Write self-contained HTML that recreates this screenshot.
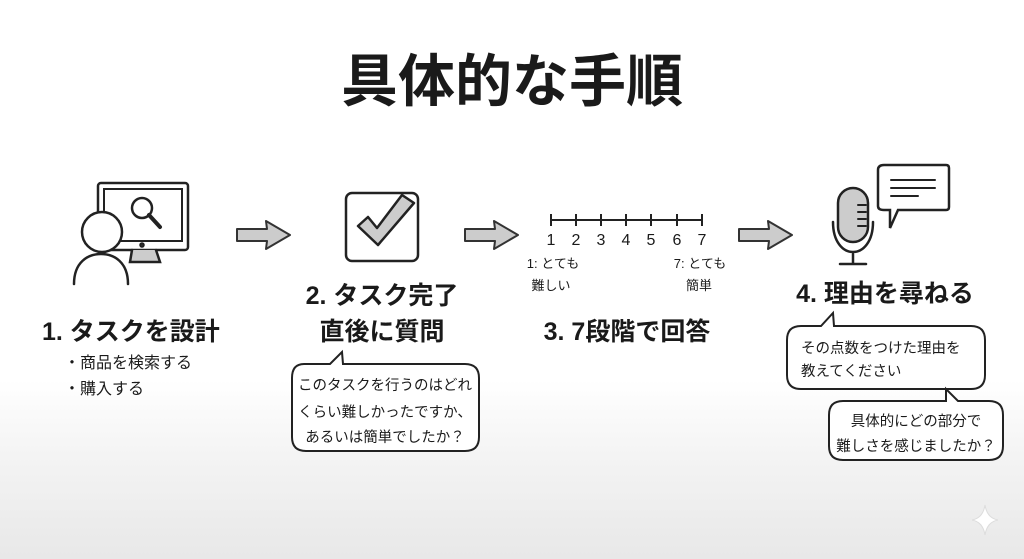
<!DOCTYPE html>
<html><head><meta charset="utf-8"><style>
html,body{margin:0;padding:0;}
body{width:1024px;height:559px;overflow:hidden;background:linear-gradient(#fff 0,#fff 380px,#f2f2f2 470px,#e8e8e8 559px);}
svg{display:block;font-family:"Liberation Sans","Noto Sans CJK JP",sans-serif;}
</style></head><body>
<svg width="1024" height="559" viewBox="0 0 1024 559" xmlns="http://www.w3.org/2000/svg">
<g fill="#1a1a1a">
<text x="512" y="101" font-size="57" font-weight="bold" text-anchor="middle">具体的な手順</text>
</g>
<!-- Step1 icon -->
<g stroke="#222" stroke-width="2.5" fill="none" stroke-linecap="round">
<rect x="98" y="183" width="90" height="67" rx="3" fill="#fff"/>
<rect x="104" y="189" width="78" height="52" fill="#fff" stroke-width="2"/>
<path d="M132 250 L130 262 L160 262 L156 250" fill="#ccc"/>
<circle cx="142" cy="208" r="10" fill="#fff"/>
<line x1="149" y1="215" x2="160" y2="227" stroke-width="4"/>
<circle cx="142" cy="245" r="1.5"/>
<circle cx="102" cy="232" r="20" fill="#fff"/>
<path d="M74 284 C74 262 88 254 101 254 C114 254 128 262 128 284" fill="#fff"/>
</g>
<!-- arrows -->
<g fill="#ccc" stroke="#333" stroke-width="2" stroke-linejoin="round">
<path d="M237 229 L267 229 L266 221 L290 235 L266 249 L267 241 L237 241 Z"/>
<path d="M465 229 L495 229 L494 221 L518 235 L494 249 L495 241 L465 241 Z"/>
<path d="M739 229 L769 229 L768 221 L792 235 L768 249 L769 241 L739 241 Z"/>
</g>
<!-- checkbox -->
<rect x="346" y="193" width="72" height="68" rx="6" fill="#fff" stroke="#222" stroke-width="2.5"/>
<path d="M358 226 L368 217 L377 228 L402 195 L414 203 L378 245 Z" fill="#ccc" stroke="#222" stroke-width="2.5" stroke-linejoin="round"/>
<!-- scale -->
<g stroke="#222" stroke-width="2">
<line x1="551" y1="220" x2="702" y2="220"/>
<line x1="551" y1="214" x2="551" y2="226"/><line x1="576" y1="214" x2="576" y2="226"/><line x1="601" y1="214" x2="601" y2="226"/><line x1="626" y1="214" x2="626" y2="226"/><line x1="651" y1="214" x2="651" y2="226"/><line x1="677" y1="214" x2="677" y2="226"/><line x1="702" y1="214" x2="702" y2="226"/>
</g>
<g fill="#1a1a1a" font-size="16" text-anchor="middle">
<text x="551" y="245">1</text><text x="576" y="245">2</text><text x="601" y="245">3</text><text x="626" y="245">4</text><text x="651" y="245">5</text><text x="677" y="245">6</text><text x="702" y="245">7</text>
<text x="553" y="268" font-size="13">1: とても</text>
<text x="551" y="290" font-size="13">難しい</text>
<text x="700" y="268" font-size="13">7: とても</text>
<text x="699" y="290" font-size="13">簡単</text>
</g>
<!-- mic -->
<g stroke="#222" stroke-width="2.5" fill="none" stroke-linecap="round">
<rect x="838" y="188" width="30" height="54" rx="15" fill="#ccc"/>
<path d="M858 205 H866 M858 212 H866 M858 219 H866 M858 226 H866" stroke-width="2"/>
<path d="M833 222 C833 262 873 262 873 222"/>
<line x1="853" y1="254" x2="853" y2="263"/>
<line x1="840" y1="264" x2="866" y2="264"/>
<path d="M884 165 H946 Q949 165 949 168 V207 Q949 210 946 210 H898 L890 228 L890 210 H884 Q878 210 878 206 V170 Q878 165 884 165 Z" fill="#fff"/>
<path d="M891 180 H935 M891 188 H935 M891 196 H918" stroke-width="2"/>
</g>
<!-- labels -->
<g fill="#1a1a1a" font-weight="bold" font-size="25">
<text x="42" y="340">1. タスクを設計</text>
<text x="382" y="304" text-anchor="middle">2. タスク完了</text>
<text x="382" y="340" text-anchor="middle">直後に質問</text>
<text x="627" y="340" text-anchor="middle">3. 7段階で回答</text>
<text x="885" y="302" text-anchor="middle">4. 理由を尋ねる</text>
</g>
<g fill="#1a1a1a" font-size="16">
<text x="64" y="368">・商品を検索する</text>
<text x="64" y="394">・購入する</text>
</g>
<!-- bubbles -->
<g stroke="#222" stroke-width="2" fill="#fff">
<path d="M304 364 H330 L342 352 L343 364 H465 Q479 364 479 378 V437 Q479 451 465 451 H306 Q292 451 292 437 V378 Q292 364 304 364 Z"/>
<path d="M801 326 H821 L833 313 L834 326 H971 Q985 326 985 340 V375 Q985 389 971 389 H801 Q787 389 787 375 V340 Q787 326 801 326 Z"/>
<path d="M843 401 H946 L946 389 L958 401 H989 Q1003 401 1003 415 V446 Q1003 460 989 460 H843 Q829 460 829 446 V415 Q829 401 843 401 Z"/>
</g>
<g fill="#1a1a1a" font-size="14.5">
<text x="385" y="390" text-anchor="middle">このタスクを行うのはどれ</text>
<text x="385" y="417" text-anchor="middle">くらい難しかったですか、</text>
<text x="385" y="442" text-anchor="middle">あるいは簡単でしたか？</text>
<text x="801" y="353">その点数をつけた理由を</text>
<text x="801" y="376">教えてください</text>
<text x="916" y="426" text-anchor="middle">具体的にどの部分で</text>
<text x="916" y="451" text-anchor="middle">難しさを感じましたか？</text>
</g>
<path d="M985 505 Q987 518 998 520 Q987 522 985 535 Q983 522 972 520 Q983 518 985 505 Z" fill="#fff" stroke="#ddd"/>
</svg>
</body></html>
